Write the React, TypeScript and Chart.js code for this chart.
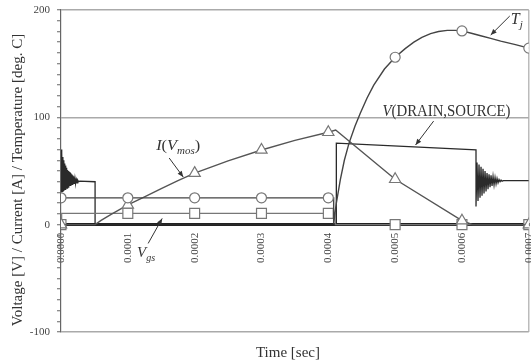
import React, { useEffect, useRef } from 'react';
import { Chart, registerables } from 'chart.js';

Chart.register(...registerables);

// ---------- data (time in microseconds) ----------
const xTickValuesUs = [0, 100, 200, 300, 400, 500, 600, 700];
const xTickLabels = ['0.0000', '0.0001', '0.0002', '0.0003', '0.0004', '0.0005', '0.0006', '0.0007'];
const yMajorTicks = [-100, 0, 100, 200];
const markerTimesUs = [0, 100, 200, 300, 400, 500, 600, 700];

// V(DRAIN,SOURCE)
const vdsTimeUs = [
  0, 0.7, 1.4, 2.1, 2.8, 3.5, 4.2, 4.9, 5.6, 6.3, 7.0, 7.7, 8.4, 9.1, 9.8, 10.5, 11.2, 11.9, 12.6, 13.3,
  14.0, 14.7, 15.4, 16.1, 16.8, 17.5, 18.2, 18.9, 19.6, 20.3, 21.0, 22.0, 23.0, 24.0, 25.0, 26.5, 28.0,
  51, 51, 412, 412, 621,
  621, 622.5, 624, 625.5, 627, 628.5, 630, 631.5, 633, 634.5, 636, 637.5, 639, 640.5, 642, 643.5, 645,
  646.5, 648, 649.5, 651, 652.5, 654, 655.5, 657, 658.5, 660, 662, 700,
];
const vdsValues = [
  70, 30, 67, 31, 63, 32, 60, 33, 57, 33, 55, 34, 53, 34, 51, 35, 50, 35, 49, 36,
  48, 36, 47, 37, 46, 37, 45, 38, 44, 38, 43, 39, 42, 39, 41.5, 40, 40.5,
  40, 0, 0, 76, 69.6,
  17, 58, 22, 56, 25, 54, 27, 52, 29, 50, 31, 48, 33, 47, 35, 46, 36,
  45, 37, 44, 38, 43, 39, 42, 40, 41.5, 40.5, 41, 41,
];

// I(Vmos)
const currentTimeUs = [0, 51, 60, 75, 100, 125, 150, 175, 200, 250, 300, 350, 400, 411, 500, 600, 616, 700];
const currentValues = [0, 0, 4, 9.5, 18.4, 26, 33.5, 41, 48, 59.5, 69.6, 78.5, 86.1, 88.2, 42.3, 3.7, 0, 0];

// Tj
const tjTimeUs = [
  0, 100, 200, 300, 400, 408, 408, 412, 418, 424, 431, 440, 448, 458, 468, 484, 500, 515, 528, 540,
  553, 565, 578, 590, 600, 614, 628, 643, 658, 680, 700,
];
const tjValues = [
  25, 25, 25, 25, 25, 25, 1, 20, 42, 60, 76, 92, 104, 118, 130, 145, 156, 164, 170, 174.5,
  178, 180, 181, 181, 180.5, 178.3, 176, 173.5, 171, 167.8, 164.5,
];

// Vgs
const vgsTimeUs = [0, 1, 100, 200, 300, 400, 410, 410.5, 500, 600, 700];
const vgsValues = [0, 10.5, 10.5, 10.5, 10.5, 10.5, 10.5, 0, 0, 0, 0];

// ---------- helpers ----------
const FONT = "'Liberation Serif', 'Times New Roman', serif";

const zip = (ts: number[], vs: number[]) => ts.map((t, i) => ({ x: t, y: vs[i] }));

type Seg = { text: string; italic?: boolean; size: number; dy?: number };

function drawRich(ctx: CanvasRenderingContext2D, segs: Seg[], x: number, y: number, targetWidth?: number) {
  const fontOf = (s: Seg) => `${s.italic ? 'italic ' : ''}${s.size}px ${FONT}`;
  let total = 0;
  for (const s of segs) {
    ctx.font = fontOf(s);
    total += ctx.measureText(s.text).width;
  }
  const sx = targetWidth ? targetWidth / total : 1;
  ctx.save();
  ctx.translate(x, y);
  ctx.scale(sx, 1);
  ctx.textAlign = 'left';
  ctx.textBaseline = 'alphabetic';
  let cx = 0;
  for (const s of segs) {
    ctx.font = fontOf(s);
    ctx.fillText(s.text, cx, s.dy || 0);
    cx += ctx.measureText(s.text).width;
  }
  ctx.restore();
}

function arrow(ctx: CanvasRenderingContext2D, x1: number, y1: number, x2: number, y2: number) {
  ctx.beginPath();
  ctx.moveTo(x1, y1);
  ctx.lineTo(x2, y2);
  ctx.lineWidth = 1;
  ctx.stroke();
  const a = Math.atan2(y2 - y1, x2 - x1);
  const L = 6;
  const W = 2.5;
  ctx.beginPath();
  ctx.moveTo(x2, y2);
  ctx.lineTo(x2 - L * Math.cos(a) + W * Math.sin(a), y2 - L * Math.sin(a) - W * Math.cos(a));
  ctx.lineTo(x2 - L * Math.cos(a) - W * Math.sin(a), y2 - L * Math.sin(a) + W * Math.cos(a));
  ctx.closePath();
  ctx.fill();
}

const annotationPlugin = {
  id: 'annotationsAndTitles',
  afterDraw(chart: any) {
    const ctx: CanvasRenderingContext2D = chart.ctx;
    const xs = chart.scales.x;
    const ys = chart.scales.y;
    const P = (t: number, v: number): [number, number] => [xs.getPixelForValue(t), ys.getPixelForValue(v)];
    ctx.save();
    ctx.fillStyle = '#333';
    ctx.strokeStyle = '#333';

    // T_j
    let p = P(673, 187);
    drawRich(ctx, [{ text: 'T', italic: true, size: 16 }, { text: 'j', italic: true, size: 11, dy: 4 }], p[0], p[1]);
    let a = P(671.5, 194.4);
    let b = P(643, 176.7);
    arrow(ctx, a[0], a[1], b[0], b[1]);

    // V(DRAIN,SOURCE)
    p = P(481, 100.8);
    drawRich(ctx, [{ text: 'V', italic: true, size: 16 }, { text: '(DRAIN,SOURCE)', size: 16 }], p[0], p[1], 128);
    a = P(557.6, 96.5);
    b = P(530.6, 74.3);
    arrow(ctx, a[0], a[1], b[0], b[1]);

    // I(V_mos)
    p = P(142.4, 69.6);
    drawRich(
      ctx,
      [
        { text: 'I', italic: true, size: 15 },
        { text: '(', size: 15 },
        { text: 'V', italic: true, size: 15 },
        { text: 'mos', italic: true, size: 10, dy: 4 },
        { text: ')', size: 15 },
      ],
      p[0],
      p[1],
      44
    );
    a = P(161.9, 62.1);
    b = P(182.9, 44.4);
    arrow(ctx, a[0], a[1], b[0], b[1]);

    // V_gs
    p = P(113.9, -29.8);
    drawRich(ctx, [{ text: 'V', italic: true, size: 15 }, { text: 'gs', italic: true, size: 10, dy: 4 }], p[0], p[1]);
    a = P(130.4, -17.5);
    b = P(151.4, 5.8);
    arrow(ctx, a[0], a[1], b[0], b[1]);

    // axis titles
    ctx.font = `15px ${FONT}`;
    ctx.textAlign = 'center';
    ctx.textBaseline = 'middle';
    ctx.save();
    ctx.translate(18, 180);
    ctx.rotate(-Math.PI / 2);
    ctx.fillText('Voltage [V] / Current [A] / Temperature [deg. C]', 0, 0, 320);
    ctx.restore();
    ctx.textBaseline = 'alphabetic';
    ctx.fillText('Time [sec]', 288, 357);
    ctx.restore();
  },
};

const markerRadius = (r: number) => (c: any) => (c.raw && markerTimesUs.includes(c.raw.x) ? r : 0);

const zeroPad = (s: any) => {
  s.paddingLeft = 0;
  s.paddingRight = 0;
  s.paddingTop = 0;
  s.paddingBottom = 0;
};

export default function App() {
  const ref = useRef<HTMLCanvasElement | null>(null);

  useEffect(() => {
    document.body.style.margin = '0';
    document.body.style.overflow = 'hidden';
    const canvas = ref.current;
    if (!canvas) return;

    const common = {
      fill: false,
      tension: 0,
      pointBackgroundColor: '#ffffff',
      pointBorderColor: '#777777',
      pointBorderWidth: 1.2,
      pointHoverRadius: 0,
    };

    const chart = new Chart(canvas, {
      type: 'line',
      data: {
        datasets: [
          {
            ...common,
            label: 'Tj',
            data: zip(tjTimeUs, tjValues),
            borderColor: '#444444',
            borderWidth: 1.4,
            pointStyle: 'circle',
            pointRadius: markerRadius(5),
            order: 1,
          },
          {
            ...common,
            label: 'I(Vmos)',
            data: zip(currentTimeUs, currentValues),
            borderColor: '#555555',
            borderWidth: 1.4,
            pointStyle: 'triangle',
            pointRadius: markerRadius(6.5),
            order: 2,
          },
          {
            ...common,
            label: 'Vgs',
            data: zip(vgsTimeUs, vgsValues),
            borderColor: '#777777',
            borderWidth: 1.2,
            pointStyle: 'rect',
            pointRadius: markerRadius(7),
            order: 3,
          },
          {
            ...common,
            label: 'V(DRAIN,SOURCE)',
            data: zip(vdsTimeUs, vdsValues),
            borderColor: '#2a2a2a',
            borderWidth: 1.3,
            pointRadius: 0,
            order: 4,
          },
        ],
      },
      options: {
        responsive: false,
        animation: false,
        devicePixelRatio: 1,
        events: [],
        layout: { padding: { top: 10, right: 0, bottom: 32, left: 0 } },
        plugins: { legend: { display: false }, tooltip: { enabled: false }, title: { display: false } },
        scales: {
          x: {
            type: 'linear',
            min: 0,
            max: 700,
            position: { y: 0 } as any,
            afterFit: zeroPad,
            ticks: {
              stepSize: 100,
              autoSkip: false,
              minRotation: 90,
              maxRotation: 90,
              padding: 8,
              color: '#444',
              font: { family: FONT, size: 11 },
              callback: (v: any) => {
                const i = xTickValuesUs.indexOf(Math.round(Number(v)));
                return i >= 0 ? xTickLabels[i] : '';
              },
            },
            grid: {
              drawTicks: false,
              lineWidth: 1.5,
              color: (c: any) => (c.index === xTickValuesUs.length - 1 ? '#bbbbbb' : 'rgba(0,0,0,0)'),
            },
            border: { display: true, color: '#222', width: 3 },
          },
          y: {
            type: 'linear',
            min: -100,
            max: 200,
            afterFit: (s: any) => {
              s.width = 61;
              zeroPad(s);
            },
            ticks: {
              stepSize: 10,
              autoSkip: false,
              padding: 7,
              color: '#444',
              font: { family: FONT, size: 11 },
              callback: (v: any) => (yMajorTicks.includes(Math.round(Number(v))) ? String(Math.round(Number(v))) : ''),
            },
            grid: {
              lineWidth: 1.5,
              tickLength: 4,
              tickWidth: 1,
              tickColor: '#666',
              color: (c: any) =>
                c.tick && [100, 200, -100].includes(Math.round(c.tick.value)) ? '#aaaaaa' : 'rgba(0,0,0,0)',
            },
            border: { color: '#666', width: 1.2 },
          },
        },
      },
      plugins: [annotationPlugin],
    } as any);

    return () => chart.destroy();
  }, []);

  return (
    <div style={{ position: 'fixed', left: 0, top: 0, width: 531, height: 364, overflow: 'hidden', background: '#fff' }}>
      <canvas ref={ref} width={537} height={364} style={{ display: 'block' }} />
    </div>
  );
}
